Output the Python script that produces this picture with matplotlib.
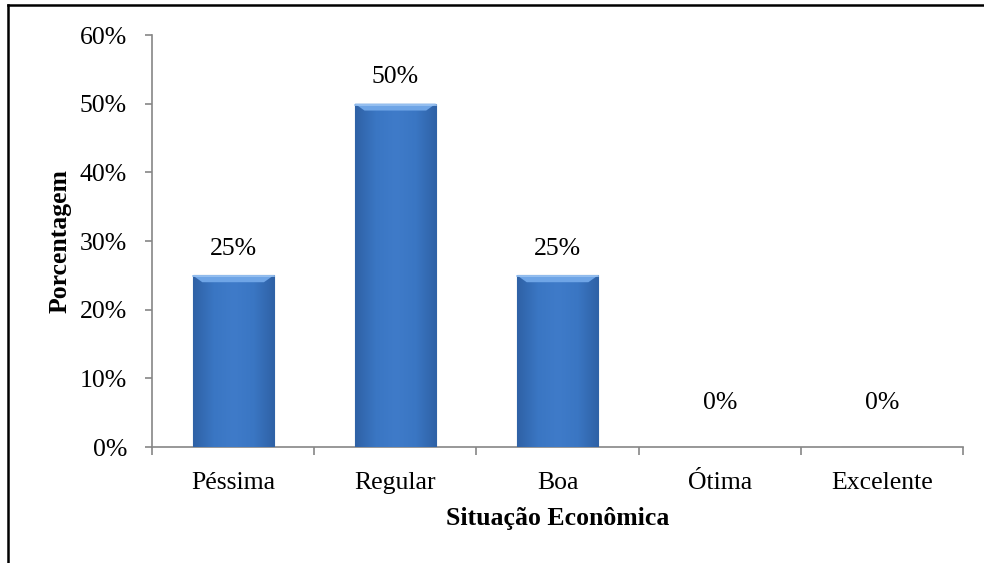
import matplotlib.pyplot as plt
import numpy as np
from matplotlib.colors import LinearSegmentedColormap
from matplotlib.lines import Line2D

categorias = ['Péssima', 'Regular', 'Boa', 'Ótima', 'Excelente']
porcentagens = [25, 50, 25, 0, 0]
yticks = [0, 10, 20, 30, 40, 50, 60]

plt.rcParams['font.family'] = ['Liberation Serif', 'DejaVu Serif']
fs = 18.5

fig = plt.figure(figsize=(9.84, 5.63), dpi=100)
ax = fig.add_axes([0.1545, 0.206, 0.8242, 0.7318])

x = np.arange(len(categorias))
bars = ax.bar(x, porcentagens, width=0.5, color='#3c78c6', edgecolor='#2d5d9a',
              linewidth=0.8, zorder=2)

# horizontal shading inside each bar, with a light bevel at the top
cmap = LinearSegmentedColormap.from_list(
    'bar', ['#2f62a6', '#3a76c3', '#3f7bc9', '#3a76c3', '#2f62a6'])
grad = np.linspace(0, 1, 64).reshape(1, -1)
for b in bars:
    h = b.get_height()
    if h <= 0:
        continue
    x0, w = b.get_x(), b.get_width()
    im = ax.imshow(grad, cmap=cmap, aspect='auto', zorder=3,
                   extent=[x0, x0 + w, 0, h], interpolation='bicubic')
    im.set_clip_path(b)
    ax.fill([x0, x0 + w, x0 + w * 0.88, x0 + w * 0.12],
            [h, h, h - 1.0, h - 1.0], color='#6fa5e6', zorder=4, lw=0)
    ax.plot([x0, x0 + w], [h - 0.15, h - 0.15], color='#9cc4f2', lw=1.2, zorder=5)

for xi, v in zip(x, porcentagens):
    off = 19 if v > 0 else 32
    ax.annotate(f'{v}%', (xi, v), xytext=(0, off), textcoords='offset points',
                ha='center', va='center', fontsize=fs)

ax.set_xlim(-0.5, len(categorias) - 0.5)
ax.set_ylim(0, 60)
ax.set_yticks(yticks)
ax.set_yticklabels([f'{t}%' for t in yticks], fontsize=fs)
ax.set_xticks(x)
ax.set_xticklabels(categorias, fontsize=fs)
ax.set_xticks(np.arange(len(categorias) + 1) - 0.5, minor=True)

axis_color = '#868686'
for side in ['top', 'right']:
    ax.spines[side].set_visible(False)
for side in ['left', 'bottom']:
    ax.spines[side].set_color(axis_color)
    ax.spines[side].set_linewidth(1.2)
ax.tick_params(axis='y', direction='out', length=5, color=axis_color, width=1.2, pad=13)
ax.tick_params(axis='x', which='major', length=0, pad=18)
ax.tick_params(axis='x', which='minor', direction='out', length=6,
               color=axis_color, width=1.2)

ax.set_ylabel('Porcentagem', fontsize=fs, fontweight='bold', labelpad=6)
ax.set_xlabel('Situação Econômica', fontsize=fs, fontweight='bold', labelpad=9)

# chart area frame (left and top edges)
fig.add_artist(Line2D([0.0085, 0.0085], [0, 0.991], color='black', lw=1.8,
                      transform=fig.transFigure))
fig.add_artist(Line2D([0.0085, 1.0], [0.991, 0.991], color='black', lw=1.8,
                      transform=fig.transFigure))

fig.savefig('out.png', dpi=100)
